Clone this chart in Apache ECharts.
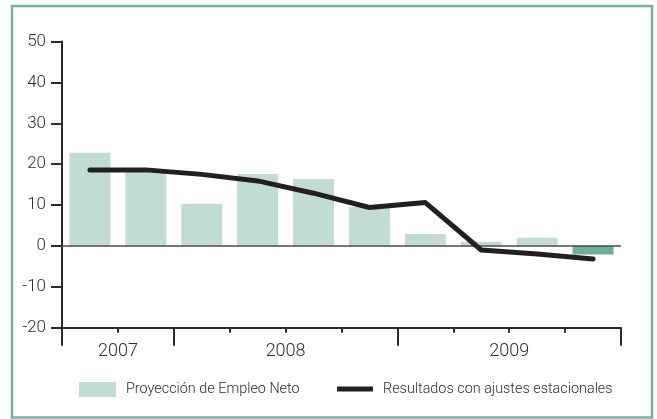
<!DOCTYPE html>
<html>
<head>
<meta charset="utf-8">
<script src="https://cdn.jsdelivr.net/npm/echarts@6/dist/echarts.min.js"></script>
<style>
html,body{margin:0;padding:0;background:#fff;}
#chart{width:657px;height:419px;}
</style>
</head>
<body>
<div id="chart"></div>
<script>
const categories = ['2007 T3','2007 T4','2008 T1','2008 T2','2008 T3','2008 T4','2009 T1','2009 T2','2009 T3','2009 T4'];
const proyeccion = [22.8, 18.5, 10.3, 17.6, 16.4, 9.5, 2.9, 1.0, 2.0, -2.1];
const resultados = [18.6, 18.6, 17.5, 15.9, 12.9, 9.4, 10.6, -1.0, -2.0, -3.2];
const yearLabels = ['', '2007', '', '', '2008', '', '', '', '2009', '', ''];
const yearBoundaries = [0, 2, 6];
const seriesNames = ['Proyección de Empleo Neto', 'Resultados con ajustes estacionales'];

const FONT = 'Roboto, "Liberation Sans", Arial, sans-serif';
const TEXT = '#2e2e2e';
const AXIS = '#2b2b2b';
const BAR = '#c3dcd3';
const BAR_NEG = '#6fae98';
const LINE = '#231f20';

const chart = echarts.init(document.getElementById('chart'), null, {renderer: 'canvas'});
chart.setOption({
  animation: false,
  backgroundColor: '#ffffff',
  graphic: [{
    type: 'rect',
    shape: {x: 12, y: 6, width: 640, height: 411.5},
    style: {fill: 'none', stroke: '#78b1a8', lineWidth: 2.5},
    silent: true, z: 100
  }],
  grid: {left: 62, right: 36, top: 41.5, bottom: 91.3, containLabel: false},
  legend: [{
    data: [{name: seriesNames[0], icon: 'rect', itemStyle: {color: BAR}}],
    left: 79, top: 382, padding: 0,
    itemWidth: 37, itemHeight: 15,
    textStyle: {fontFamily: FONT, fontSize: 14.4, fontWeight: 300, color: TEXT, padding: [0, 0, 0, 5]},
    selectedMode: false
  }, {
    data: [{name: seriesNames[1], icon: 'path://M0,0H36V5H0Z', itemStyle: {color: LINE}}],
    left: 337, top: 382, padding: 0,
    itemWidth: 36, itemHeight: 15,
    textStyle: {fontFamily: FONT, fontSize: 14.4, fontWeight: 300, color: TEXT, padding: [0, 0, 0, 5]},
    selectedMode: false
  }],
  xAxis: [{
    type: 'category', data: categories, position: 'bottom', gridIndex: 0,
    boundaryGap: true,
    axisLine: {show: true, onZero: false, lineStyle: {color: AXIS, width: 2}},
    axisTick: {show: true, interval: 0, length: 5, lineStyle: {color: AXIS, width: 2}},
    axisLabel: {show: false},
    splitLine: {show: false}
  }, {
    type: 'category', data: categories, position: 'bottom', gridIndex: 0,
    boundaryGap: true,
    axisLine: {show: false, onZero: false},
    axisTick: {show: true, length: 18, lineStyle: {color: AXIS, width: 2},
      interval: function (idx) { return yearBoundaries.indexOf(idx) >= 0; }},
    axisLabel: {show: false},
    splitLine: {show: false}
  }, {
    type: 'category', data: yearLabels, position: 'bottom', gridIndex: 0,
    boundaryGap: false,
    axisLine: {show: false, onZero: false},
    axisTick: {show: false},
    axisLabel: {show: true, interval: 0, margin: 15, fontFamily: FONT, fontSize: 18, fontWeight: 300, color: TEXT},
    splitLine: {show: false}
  }],
  yAxis: {
    type: 'value', min: -20, max: 50, interval: 10,
    axisLine: {show: true, onZero: false, lineStyle: {color: AXIS, width: 2}},
    axisTick: {show: true, length: 11, lineStyle: {color: AXIS, width: 2}},
    axisLabel: {margin: 16, fontFamily: FONT, fontSize: 17, fontWeight: 300, color: TEXT},
    splitLine: {show: false}
  },
  series: [{
    name: seriesNames[0],
    type: 'bar',
    xAxisIndex: 0,
    data: proyeccion,
    barWidth: 41,
    itemStyle: {color: function (p) { return p.value < 0 ? BAR_NEG : BAR; }},
    markLine: {
      silent: true, symbol: ['none', 'none'],
      label: {show: false},
      lineStyle: {color: '#4a4a4a', width: 1.5, type: 'solid'},
      data: [{yAxis: 0}]
    },
    z: 2
  }, {
    name: seriesNames[1],
    type: 'line',
    xAxisIndex: 0,
    data: resultados,
    symbol: 'none',
    lineStyle: {color: LINE, width: 5, cap: 'round', join: 'round'},
    itemStyle: {color: LINE},
    z: 5
  }]
});
</script>
</body>
</html>
